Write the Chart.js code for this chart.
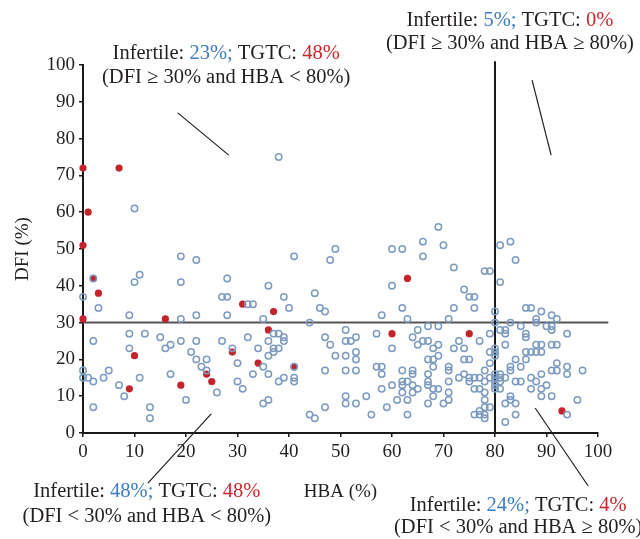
<!DOCTYPE html>
<html>
<head>
<meta charset="utf-8">
<script src="https://cdn.jsdelivr.net/npm/chart.js@4"></script>
<style>
  html, body { margin: 0; padding: 0; background: #fff; }
  #wrap { width: 640px; height: 539px; position: relative; }
</style>
</head>
<body>
<div id="wrap"><canvas id="scatter"></canvas></div>
<script>
// Infertile patients (open blue circles), as [HBA %, DFI %]
const infertilePoints = [
  [10,61],[19,48],[22,47],[11,43],[10,41],[19,41],[28,42],[0,37],[27,37],[28,37],[2,42],
  [3,34],[9,32],[19,31],[22,32],[28,32],[9,27],[12,27],[2,25],[9,23],[15,26],[16,23],[17,24],
  [19,25],[22,25],[27,25],[21,22],[22,20],[24,20],[23,18],[24,17],[29,23],[30,19],[30,14],
  [0,17],[0,15],[1,15],[2,14],[4,15],[5,17],[7,13],[8,10],[11,15],[2,7],[17,16],[20,9],
  [13,7],[13,4],[26,11],
  [38,75],[49,50],[41,48],[48,47],[60,50],[62,50],[36,40],[39,37],[45,38],[60,40],
  [32,35],[33,35],[40,34],[46,34],[47,33],[35,31],[44,30],[58,32],[62,34],[63,31],
  [37,27],[38,27],[39,26],[39,25],[32,26],[36,25],[51,28],[47,26],[51,25],[52,25],[53,26],
  [57,27],[48,24],[34,23],[37,23],[38,23],[37,22],[36,21],[35,18],[36,16],[33,16],[41,18],
  [31,12],[38,14],[39,15],[41,15],[41,14],[35,8],[36,9],[44,5],[45,4],[47,17],[49,21],
  [51,21],[53,22],[53,20],[51,17],[53,17],[47,7],[51,10],[51,8],[53,8],[55,10],[56,5],
  [57,18],[58,18],[58,16],[60,23],[62,17],[58,12],[60,13],[62,14],[63,14],[62,13],[62,11],
  [61,9],[63,9],[59,7],[63,5],
  [69,56],[66,52],[70,51],[66,48],[72,45],[78,44],[79,44],[74,39],[75,37],[76,37],
  [81,51],[83,52],[84,47],[81,41],
  [72,34],[76,34],[80,33],[86,34],[87,34],[89,33],[91,32],[92,31],[88,31],[71,31],[88,30],
  [80,30],[83,30],[85,29],[90,29],[91,29],[67,29],[69,29],[65,28],[91,28],[79,27],[81,28],
  [82,28],[82,27],[86,27],[86,26],[94,27],[64,26],[66,25],[67,25],[73,25],[77,25],[65,24],
  [68,23],[69,24],[72,23],[74,23],[82,24],[88,24],[89,24],[91,24],[92,24],[79,22],[80,22],
  [80,23],[80,21],[86,22],[87,22],[88,22],[89,22],[69,21],[67,20],[68,20],[74,20],[75,20],
  [84,20],[86,20],[68,18],[71,18],[79,19],[83,18],[85,18],[92,19],[94,18],[64,17],[64,16],
  [67,16],[71,17],[78,17],[83,17],[91,17],[92,17],[94,16],[97,17],[89,16],[73,15],[74,16],
  [75,15],[76,15],[77,15],[79,15],[80,16],[80,15],[81,16],[81,15],[82,15],[87,15],[67,14],
  [71,14],[75,14],[78,14],[80,14],[80,13],[81,14],[84,14],[85,14],[88,14],[64,13],[67,13],
  [90,13],[65,12],[68,12],[69,12],[76,12],[77,12],[80,12],[81,12],[87,12],[89,12],[64,11],
  [71,11],[78,11],[68,10],[83,10],[83,9],[89,10],[91,10],[96,9],[71,9],[78,9],[67,8],[70,8],
  [82,8],[84,8],[78,7],[79,7],[77,6],[76,5],[77,5],[78,5],[78,4],[84,5],[82,3],[94,5]
];

// TGTC patients (filled red dots), as [HBA %, DFI %]
const tgtcPoints = [
  [0,72],[7,72],[1,60],[0,51],[2,42],[3,38],[0,31],[16,31],[31,35],[37,33],[63,42],
  [10,21],[24,16],[25,14],[29,22],[9,12],[19,13],[36,28],[34,19],[60,27],[75,27],[41,18],
  [93,6]
];

// cut-offs
const hbaCutoff = 80;
const dfiCutoff = 30;

const xTicks = [0,10,20,30,40,50,60,70,80,90,100];
const yTicks = [0,10,20,30,40,50,60,70,80,90,100];

// quadrant notes: text lines + where they sit (data units) + leader line ends
const quadrantNotes = [
  { infertile: "23%;", tgtc: "48%", rule: "(DFI \u2265 30% and HBA < 80%)",
    at: [27.8, 103.0], line2: [27.8, 96.7], leader: [[18.4, 87], [28.3, 75.5]] },
  { infertile: "5%;", tgtc: "0%", rule: "(DFI \u2265 30% and HBA \u2265 80%)",
    at: [82.9, 112.0], line2: [82.9, 105.8], leader: [[87.2, 95.9], [90.9, 75.5]] },
  { infertile: "48%;", tgtc: "48%", rule: "(DFI < 30% and HBA < 80%)",
    at: [12.4, -16.0], line2: [12.4, -22.6], leader: [[12.6, -13.6], [24.9, 5.2]] },
  { infertile: "24%;", tgtc: "4%", rule: "(DFI < 30% and HBA \u2265 80%)",
    at: [84.5, -19.6], line2: [84.5, -25.8], leader: [[98.1, -14.4], [87.8, 6.8]] }
];

const SERIF = "'Liberation Serif', 'DejaVu Serif', serif";
const TEXT = "#231f20";
const BLUE_TXT = "#3d7cc0";
const RED_TXT = "#c8282e";

const toXY = arr => arr.map(p => ({ x: p[0], y: p[1] }));

const notesPlugin = {
  id: "notes",
  afterDraw(chart) {
    const ctx = chart.ctx;
    const xs = chart.scales.x, ys = chart.scales.y;
    const px = v => xs.getPixelForValue(v);
    const py = v => ys.getPixelForValue(v);
    ctx.save();
    ctx.font = "20.5px " + SERIF;
    ctx.textBaseline = "middle";
    ctx.textAlign = "left";

    function drawSegments(segs, cx, cy) {
      const total = segs.reduce((w, s) => w + ctx.measureText(s[0]).width, 0);
      let x = cx - total / 2;
      segs.forEach(s => {
        ctx.fillStyle = s[1];
        ctx.fillText(s[0], x, cy);
        x += ctx.measureText(s[0]).width;
      });
    }

    quadrantNotes.forEach(n => {
      drawSegments([["Infertile: ", TEXT], [n.infertile, BLUE_TXT], [" TGTC: ", TEXT], [n.tgtc, RED_TXT]],
        px(n.at[0]), py(n.at[1]));
      drawSegments([[n.rule, TEXT]], px(n.line2[0]), py(n.line2[1]));
      ctx.strokeStyle = "#231f20";
      ctx.lineWidth = 1.2;
      ctx.beginPath();
      ctx.moveTo(px(n.leader[0][0]), py(n.leader[0][1]));
      ctx.lineTo(px(n.leader[1][0]), py(n.leader[1][1]));
      ctx.stroke();
    });
    ctx.restore();
  }
};

const chart = new Chart(document.getElementById("scatter"), {
  type: "scatter",
  data: {
    datasets: [
      {
        label: "Infertile",
        data: toXY(infertilePoints),
        pointRadius: 3.2,
        pointBorderWidth: 1.5,
        pointBorderColor: "#7d9bc1",
        pointBackgroundColor: "rgba(255,255,255,0)",
        clip: false
      },
      {
        label: "TGTC",
        data: toXY(tgtcPoints),
        pointRadius: 3.6,
        pointBorderWidth: 0,
        pointBackgroundColor: "#c4232b",
        pointBorderColor: "#c4232b",
        clip: false
      },
      {
        label: "HBA cut-off",
        type: "line",
        data: [{ x: hbaCutoff, y: 0 }, { x: hbaCutoff, y: 101 }],
        borderColor: "#1a1a1a",
        borderWidth: 2,
        pointRadius: 0,
        clip: false
      },
      {
        label: "DFI cut-off",
        type: "line",
        data: [{ x: 0, y: dfiCutoff }, { x: 102, y: dfiCutoff }],
        borderColor: "#555",
        borderWidth: 2,
        pointRadius: 0,
        clip: false
      }
    ]
  },
  options: {
    responsive: true,
    maintainAspectRatio: false,
    animation: false,
    layout: { padding: { top: 65, right: 42, left: 0, bottom: 0 } },
    plugins: {
      legend: { display: false },
      tooltip: { enabled: false }
    },
    scales: {
      x: {
        type: "linear",
        min: 0,
        max: 100,
        afterBuildTicks: s => { s.ticks = xTicks.map(v => ({ value: v })); },
        afterFit: s => { s.height = 106; },
        border: { display: true, color: "#1a1a1a", width: 2 },
        grid: { drawOnChartArea: false, drawTicks: true, tickLength: 4, color: "#1a1a1a", lineWidth: 1.5 },
        ticks: { font: { family: SERIF, size: 19 }, color: TEXT, padding: 4, maxRotation: 0 },
        title: {
          display: true,
          text: "HBA (%)",
          font: { family: SERIF, size: 19 },
          color: TEXT,
          padding: { top: 0, bottom: 36 }
        }
      },
      y: {
        type: "linear",
        min: 0,
        max: 100,
        afterBuildTicks: s => { s.ticks = yTicks.map(v => ({ value: v })); },
        afterFit: s => { s.width = 83; },
        border: { display: true, color: "#1a1a1a", width: 2 },
        grid: { drawOnChartArea: false, drawTicks: true, tickLength: 4, color: "#1a1a1a", lineWidth: 1.5 },
        ticks: { font: { family: SERIF, size: 19 }, color: TEXT, padding: 4 },
        title: {
          display: true,
          text: "DFI (%)",
          font: { family: SERIF, size: 19 },
          color: TEXT,
          padding: { top: 12, bottom: 0 }
        }
      }
    }
  },
  plugins: [notesPlugin]
});
</script>
</body>
</html>
